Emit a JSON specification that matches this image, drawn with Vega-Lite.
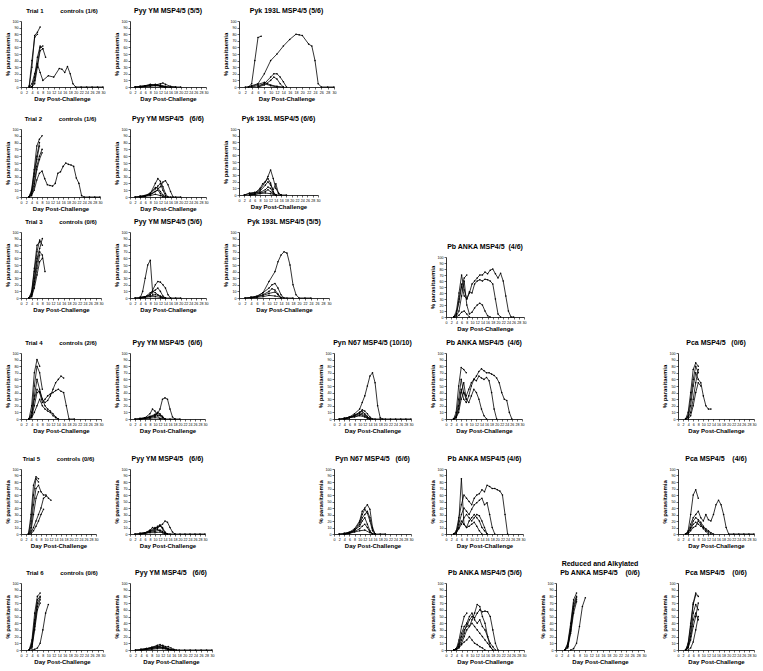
{
"$schema": "https://vega.github.io/schema/vega-lite/v6.json",
"background": "white",
"padding": {"left": 4, "top": 7, "right": 1, "bottom": 2},
"config": {
 "view": {"stroke": null},
 "font": "Liberation Sans",
 "title": {"fontSize": 7, "font": "Liberation Sans", "fontWeight": "bold", "offset": 5, "color": "black"},
 "axis": {"grid": false, "domainColor": "black", "tickColor": "black", "tickSize": 2, "tickWidth": 0.6, "domainWidth": 0.8, "labelFontSize": 3.6, "labelFont": "Liberation Sans", "labelColor": "black", "labelPadding": 1, "labelOverlap": false, "labelFlush": false, "titleFontSize": 6, "titleFont": "Liberation Sans", "titleFontWeight": "bold", "titleColor": "black", "titlePadding": 2},
 "axisX": {"tickCount": 15},
 "axisY": {"tickCount": 10},
 "line": {"color": "black", "strokeWidth": 0.8},
 "point": {"color": "black", "filled": true, "size": 2.5}
},
"datasets": {
 "t1c": [{"m":"a","d":3,"v":0},{"m":"a","d":4,"v":30},{"m":"a","d":5,"v":78},{"m":"a","d":6,"v":83},{"m":"a","d":7,"v":91},
  {"m":"b","d":3,"v":2},{"m":"b","d":4,"v":40},{"m":"b","d":5,"v":75},{"m":"b","d":6,"v":80},
  {"m":"c","d":3,"v":0},{"m":"c","d":4,"v":0},{"m":"c","d":5,"v":10},{"m":"c","d":6,"v":35},{"m":"c","d":7,"v":60},{"m":"c","d":8,"v":62},
  {"m":"d","d":4,"v":0},{"m":"d","d":5,"v":5},{"m":"d","d":6,"v":30},{"m":"d","d":7,"v":55},{"m":"d","d":8,"v":58},{"m":"d","d":9,"v":45},
  {"m":"e","d":3,"v":0},{"m":"e","d":4,"v":5},{"m":"e","d":5,"v":20},{"m":"e","d":6,"v":35},{"m":"e","d":7,"v":22},{"m":"e","d":8,"v":10},{"m":"e","d":10,"v":17},{"m":"e","d":12,"v":15},{"m":"e","d":14,"v":28},{"m":"e","d":15,"v":27},{"m":"e","d":16,"v":22},{"m":"e","d":17,"v":31},{"m":"e","d":18,"v":20},{"m":"e","d":19,"v":5},{"m":"e","d":20,"v":0},{"m":"e","d":22,"v":0},{"m":"e","d":24,"v":0},{"m":"e","d":26,"v":0},{"m":"e","d":28,"v":0},{"m":"e","d":30,"v":0},
  {"m":"f","d":3,"v":0},{"m":"f","d":4,"v":0},{"m":"f","d":5,"v":15},{"m":"f","d":6,"v":45},{"m":"f","d":7,"v":62},{"m":"f","d":8,"v":58}],
 "t1y": [{"m":"a","d":2,"v":0},{"m":"a","d":4,"v":1},{"m":"a","d":6,"v":2},{"m":"a","d":8,"v":3},{"m":"a","d":10,"v":3},{"m":"a","d":12,"v":5},{"m":"a","d":13,"v":6},{"m":"a","d":14,"v":4},{"m":"a","d":16,"v":1},{"m":"a","d":18,"v":0},{"m":"a","d":20,"v":0},
  {"m":"b","d":2,"v":0},{"m":"b","d":4,"v":1},{"m":"b","d":6,"v":2},{"m":"b","d":8,"v":4},{"m":"b","d":10,"v":3},{"m":"b","d":12,"v":2},{"m":"b","d":14,"v":0},
  {"m":"c","d":4,"v":0},{"m":"c","d":6,"v":1},{"m":"c","d":8,"v":2},{"m":"c","d":10,"v":4},{"m":"c","d":11,"v":3},{"m":"c","d":12,"v":1},{"m":"c","d":14,"v":0},
  {"m":"d","d":4,"v":0},{"m":"d","d":6,"v":1},{"m":"d","d":8,"v":3},{"m":"d","d":10,"v":2},{"m":"d","d":12,"v":3},{"m":"d","d":14,"v":1},{"m":"d","d":16,"v":0},
  {"m":"e","d":2,"v":0},{"m":"e","d":4,"v":0},{"m":"e","d":6,"v":1},{"m":"e","d":8,"v":1},{"m":"e","d":10,"v":2},{"m":"e","d":12,"v":1},{"m":"e","d":14,"v":0},{"m":"e","d":16,"v":0},{"m":"e","d":18,"v":0}],
 "t1k": [{"m":"a","d":3,"v":0},{"m":"a","d":4,"v":5},{"m":"a","d":5,"v":40},{"m":"a","d":6,"v":75},{"m":"a","d":7,"v":77},
  {"m":"b","d":3,"v":0},{"m":"b","d":4,"v":2},{"m":"b","d":6,"v":5},{"m":"b","d":8,"v":20},{"m":"b","d":10,"v":40},{"m":"b","d":12,"v":50},{"m":"b","d":14,"v":62},{"m":"b","d":16,"v":72},{"m":"b","d":18,"v":80},{"m":"b","d":19,"v":79},{"m":"b","d":20,"v":78},{"m":"b","d":22,"v":65},{"m":"b","d":23,"v":62},{"m":"b","d":24,"v":40},{"m":"b","d":25,"v":5},{"m":"b","d":26,"v":0},{"m":"b","d":28,"v":0},{"m":"b","d":30,"v":0},
  {"m":"c","d":6,"v":0},{"m":"c","d":8,"v":5},{"m":"c","d":10,"v":15},{"m":"c","d":11,"v":20},{"m":"c","d":12,"v":20},{"m":"c","d":13,"v":15},{"m":"c","d":14,"v":8},{"m":"c","d":15,"v":0},
  {"m":"d","d":6,"v":0},{"m":"d","d":8,"v":3},{"m":"d","d":10,"v":10},{"m":"d","d":11,"v":15},{"m":"d","d":12,"v":12},{"m":"d","d":13,"v":5},{"m":"d","d":14,"v":0},
  {"m":"e","d":2,"v":0},{"m":"e","d":4,"v":1},{"m":"e","d":6,"v":4},{"m":"e","d":8,"v":7},{"m":"e","d":9,"v":5},{"m":"e","d":10,"v":3},{"m":"e","d":12,"v":1},{"m":"e","d":14,"v":0},
  {"m":"f","d":4,"v":0},{"m":"f","d":6,"v":2},{"m":"f","d":8,"v":5},{"m":"f","d":10,"v":2},{"m":"f","d":12,"v":0}],
 "t2c": [{"m":"a","d":3,"v":0},{"m":"a","d":4,"v":10},{"m":"a","d":5,"v":40},{"m":"a","d":6,"v":75},{"m":"a","d":7,"v":85},{"m":"a","d":8,"v":90},
  {"m":"b","d":3,"v":0},{"m":"b","d":4,"v":8},{"m":"b","d":5,"v":35},{"m":"b","d":6,"v":60},{"m":"b","d":7,"v":80},
  {"m":"c","d":3,"v":0},{"m":"c","d":4,"v":5},{"m":"c","d":5,"v":30},{"m":"c","d":6,"v":55},{"m":"c","d":7,"v":75},
  {"m":"d","d":3,"v":0},{"m":"d","d":4,"v":5},{"m":"d","d":5,"v":20},{"m":"d","d":6,"v":45},{"m":"d","d":7,"v":60},{"m":"d","d":8,"v":70},
  {"m":"e","d":3,"v":0},{"m":"e","d":4,"v":2},{"m":"e","d":5,"v":10},{"m":"e","d":6,"v":25},{"m":"e","d":7,"v":35},{"m":"e","d":8,"v":38},{"m":"e","d":9,"v":27},{"m":"e","d":10,"v":18},{"m":"e","d":11,"v":17},{"m":"e","d":12,"v":16},{"m":"e","d":13,"v":20},{"m":"e","d":14,"v":35},{"m":"e","d":15,"v":37},{"m":"e","d":16,"v":45},{"m":"e","d":17,"v":50},{"m":"e","d":18,"v":48},{"m":"e","d":19,"v":47},{"m":"e","d":20,"v":45},{"m":"e","d":21,"v":28},{"m":"e","d":22,"v":20},{"m":"e","d":23,"v":2},{"m":"e","d":24,"v":0},{"m":"e","d":26,"v":0},{"m":"e","d":28,"v":0},{"m":"e","d":30,"v":0},
  {"m":"f","d":3,"v":0},{"m":"f","d":4,"v":3},{"m":"f","d":5,"v":15},{"m":"f","d":6,"v":40},{"m":"f","d":7,"v":55},{"m":"f","d":8,"v":65}],
 "t2y": [{"m":"a","d":2,"v":0},{"m":"a","d":4,"v":1},{"m":"a","d":6,"v":2},{"m":"a","d":8,"v":5},{"m":"a","d":10,"v":20},{"m":"a","d":11,"v":27},{"m":"a","d":12,"v":23},{"m":"a","d":13,"v":15},{"m":"a","d":14,"v":5},{"m":"a","d":15,"v":0},
  {"m":"b","d":4,"v":0},{"m":"b","d":6,"v":2},{"m":"b","d":8,"v":3},{"m":"b","d":10,"v":8},{"m":"b","d":12,"v":15},{"m":"b","d":13,"v":22},{"m":"b","d":14,"v":24},{"m":"b","d":15,"v":18},{"m":"b","d":16,"v":8},{"m":"b","d":17,"v":0},
  {"m":"c","d":4,"v":0},{"m":"c","d":6,"v":1},{"m":"c","d":8,"v":4},{"m":"c","d":10,"v":12},{"m":"c","d":11,"v":16},{"m":"c","d":12,"v":20},{"m":"c","d":13,"v":10},{"m":"c","d":14,"v":2},{"m":"c","d":15,"v":0},
  {"m":"d","d":4,"v":0},{"m":"d","d":6,"v":2},{"m":"d","d":8,"v":6},{"m":"d","d":10,"v":14},{"m":"d","d":11,"v":13},{"m":"d","d":12,"v":8},{"m":"d","d":13,"v":3},{"m":"d","d":14,"v":0},
  {"m":"e","d":4,"v":1},{"m":"e","d":6,"v":2},{"m":"e","d":8,"v":4},{"m":"e","d":10,"v":8},{"m":"e","d":11,"v":10},{"m":"e","d":12,"v":5},{"m":"e","d":13,"v":0},
  {"m":"f","d":2,"v":0},{"m":"f","d":4,"v":1},{"m":"f","d":6,"v":1},{"m":"f","d":8,"v":2},{"m":"f","d":10,"v":4},{"m":"f","d":12,"v":2},{"m":"f","d":14,"v":0},{"m":"f","d":16,"v":0},{"m":"f","d":18,"v":0},{"m":"f","d":20,"v":0}],
 "t2k": [{"m":"a","d":2,"v":0},{"m":"a","d":4,"v":2},{"m":"a","d":6,"v":3},{"m":"a","d":8,"v":8},{"m":"a","d":10,"v":20},{"m":"a","d":11,"v":28},{"m":"a","d":12,"v":38},{"m":"a","d":13,"v":25},{"m":"a","d":14,"v":10},{"m":"a","d":15,"v":3},{"m":"a","d":16,"v":0},
  {"m":"b","d":4,"v":2},{"m":"b","d":6,"v":3},{"m":"b","d":8,"v":10},{"m":"b","d":9,"v":17},{"m":"b","d":10,"v":20},{"m":"b","d":11,"v":25},{"m":"b","d":12,"v":18},{"m":"b","d":13,"v":5},{"m":"b","d":14,"v":0},
  {"m":"c","d":4,"v":0},{"m":"c","d":6,"v":2},{"m":"c","d":8,"v":6},{"m":"c","d":10,"v":15},{"m":"c","d":11,"v":20},{"m":"c","d":12,"v":15},{"m":"c","d":13,"v":8},{"m":"c","d":14,"v":17},{"m":"c","d":15,"v":2},{"m":"c","d":16,"v":0},
  {"m":"d","d":2,"v":0},{"m":"d","d":4,"v":3},{"m":"d","d":6,"v":4},{"m":"d","d":8,"v":4},{"m":"d","d":10,"v":8},{"m":"d","d":11,"v":12},{"m":"d","d":12,"v":10},{"m":"d","d":13,"v":4},{"m":"d","d":14,"v":0},
  {"m":"e","d":4,"v":0},{"m":"e","d":6,"v":1},{"m":"e","d":8,"v":3},{"m":"e","d":10,"v":5},{"m":"e","d":11,"v":8},{"m":"e","d":12,"v":5},{"m":"e","d":13,"v":2},{"m":"e","d":14,"v":0},
  {"m":"f","d":4,"v":0},{"m":"f","d":6,"v":1},{"m":"f","d":8,"v":2},{"m":"f","d":10,"v":3},{"m":"f","d":12,"v":2},{"m":"f","d":14,"v":0},{"m":"f","d":16,"v":0},{"m":"f","d":18,"v":0}],
 "t3c": [{"m":"a","d":3,"v":0},{"m":"a","d":4,"v":10},{"m":"a","d":5,"v":45},{"m":"a","d":6,"v":80},{"m":"a","d":7,"v":85},
  {"m":"b","d":3,"v":0},{"m":"b","d":4,"v":8},{"m":"b","d":5,"v":40},{"m":"b","d":6,"v":70},{"m":"b","d":7,"v":88},{"m":"b","d":8,"v":80},
  {"m":"c","d":3,"v":0},{"m":"c","d":4,"v":5},{"m":"c","d":5,"v":30},{"m":"c","d":6,"v":60},{"m":"c","d":7,"v":75},{"m":"c","d":8,"v":90},
  {"m":"d","d":3,"v":0},{"m":"d","d":4,"v":5},{"m":"d","d":5,"v":25},{"m":"d","d":6,"v":55},{"m":"d","d":7,"v":70},{"m":"d","d":8,"v":65},{"m":"d","d":9,"v":40},
  {"m":"e","d":3,"v":0},{"m":"e","d":4,"v":3},{"m":"e","d":5,"v":20},{"m":"e","d":6,"v":45},{"m":"e","d":7,"v":65},
  {"m":"f","d":3,"v":0},{"m":"f","d":4,"v":2},{"m":"f","d":5,"v":15},{"m":"f","d":6,"v":35},{"m":"f","d":7,"v":55},{"m":"f","d":8,"v":60}],
 "t3y": [{"m":"a","d":4,"v":0},{"m":"a","d":5,"v":10},{"m":"a","d":6,"v":30},{"m":"a","d":7,"v":50},{"m":"a","d":8,"v":57},{"m":"a","d":9,"v":5},
  {"m":"b","d":4,"v":0},{"m":"b","d":6,"v":2},{"m":"b","d":8,"v":5},{"m":"b","d":10,"v":20},{"m":"b","d":11,"v":25},{"m":"b","d":12,"v":24},{"m":"b","d":13,"v":20},{"m":"b","d":14,"v":15},{"m":"b","d":15,"v":5},{"m":"b","d":16,"v":0},
  {"m":"c","d":4,"v":0},{"m":"c","d":6,"v":2},{"m":"c","d":8,"v":8},{"m":"c","d":10,"v":12},{"m":"c","d":11,"v":15},{"m":"c","d":12,"v":10},{"m":"c","d":13,"v":3},{"m":"c","d":14,"v":0},
  {"m":"d","d":4,"v":1},{"m":"d","d":6,"v":2},{"m":"d","d":8,"v":5},{"m":"d","d":9,"v":10},{"m":"d","d":10,"v":8},{"m":"d","d":11,"v":5},{"m":"d","d":12,"v":2},{"m":"d","d":13,"v":0},
  {"m":"e","d":2,"v":0},{"m":"e","d":4,"v":1},{"m":"e","d":6,"v":2},{"m":"e","d":8,"v":3},{"m":"e","d":10,"v":5},{"m":"e","d":12,"v":3},{"m":"e","d":14,"v":0},
  {"m":"f","d":2,"v":0},{"m":"f","d":4,"v":0},{"m":"f","d":6,"v":1},{"m":"f","d":8,"v":2},{"m":"f","d":10,"v":2},{"m":"f","d":12,"v":1},{"m":"f","d":14,"v":0},{"m":"f","d":16,"v":0},{"m":"f","d":18,"v":0},{"m":"f","d":20,"v":0}],
 "t3k": [{"m":"a","d":2,"v":0},{"m":"a","d":4,"v":1},{"m":"a","d":6,"v":3},{"m":"a","d":8,"v":8},{"m":"a","d":10,"v":25},{"m":"a","d":12,"v":40},{"m":"a","d":13,"v":55},{"m":"a","d":14,"v":65},{"m":"a","d":15,"v":70},{"m":"a","d":16,"v":68},{"m":"a","d":17,"v":50},{"m":"a","d":18,"v":20},{"m":"a","d":19,"v":5},{"m":"a","d":20,"v":0},{"m":"a","d":22,"v":0},{"m":"a","d":24,"v":0},
  {"m":"b","d":4,"v":0},{"m":"b","d":6,"v":2},{"m":"b","d":8,"v":8},{"m":"b","d":10,"v":15},{"m":"b","d":11,"v":20},{"m":"b","d":12,"v":22},{"m":"b","d":13,"v":15},{"m":"b","d":14,"v":5},{"m":"b","d":15,"v":0},
  {"m":"c","d":4,"v":0},{"m":"c","d":6,"v":2},{"m":"c","d":8,"v":5},{"m":"c","d":10,"v":10},{"m":"c","d":11,"v":14},{"m":"c","d":12,"v":12},{"m":"c","d":13,"v":6},{"m":"c","d":14,"v":0},
  {"m":"d","d":4,"v":1},{"m":"d","d":6,"v":2},{"m":"d","d":8,"v":4},{"m":"d","d":10,"v":7},{"m":"d","d":12,"v":9},{"m":"d","d":13,"v":5},{"m":"d","d":14,"v":0},
  {"m":"e","d":2,"v":0},{"m":"e","d":4,"v":1},{"m":"e","d":6,"v":1},{"m":"e","d":8,"v":2},{"m":"e","d":10,"v":4},{"m":"e","d":12,"v":3},{"m":"e","d":14,"v":1},{"m":"e","d":16,"v":0},{"m":"e","d":18,"v":0}],
 "t3b": [{"m":"a","d":3,"v":0},{"m":"a","d":4,"v":10},{"m":"a","d":5,"v":40},{"m":"a","d":6,"v":70},{"m":"a","d":7,"v":45},{"m":"a","d":8,"v":30},{"m":"a","d":9,"v":40},{"m":"a","d":10,"v":55},{"m":"a","d":11,"v":60},{"m":"a","d":12,"v":65},{"m":"a","d":13,"v":70},{"m":"a","d":14,"v":70},{"m":"a","d":15,"v":75},{"m":"a","d":16,"v":72},{"m":"a","d":17,"v":78},{"m":"a","d":18,"v":80},{"m":"a","d":19,"v":72},{"m":"a","d":20,"v":65},{"m":"a","d":21,"v":73},{"m":"a","d":22,"v":60},{"m":"a","d":23,"v":35},{"m":"a","d":24,"v":10},{"m":"a","d":25,"v":0},{"m":"a","d":26,"v":0},
  {"m":"b","d":3,"v":0},{"m":"b","d":4,"v":5},{"m":"b","d":5,"v":30},{"m":"b","d":6,"v":55},{"m":"b","d":7,"v":35},{"m":"b","d":8,"v":30},{"m":"b","d":9,"v":42},{"m":"b","d":10,"v":40},{"m":"b","d":11,"v":55},{"m":"b","d":12,"v":60},{"m":"b","d":13,"v":62},{"m":"b","d":14,"v":60},{"m":"b","d":15,"v":63},{"m":"b","d":16,"v":62},{"m":"b","d":17,"v":60},{"m":"b","d":18,"v":55},{"m":"b","d":19,"v":30},{"m":"b","d":20,"v":5},{"m":"b","d":21,"v":0},
  {"m":"c","d":3,"v":0},{"m":"c","d":4,"v":2},{"m":"c","d":5,"v":10},{"m":"c","d":6,"v":35},{"m":"c","d":7,"v":60},{"m":"c","d":8,"v":20},{"m":"c","d":9,"v":5},{"m":"c","d":10,"v":8},{"m":"c","d":11,"v":15},{"m":"c","d":12,"v":20},{"m":"c","d":13,"v":23},{"m":"c","d":14,"v":20},{"m":"c","d":15,"v":10},{"m":"c","d":16,"v":2},{"m":"c","d":17,"v":0},
  {"m":"d","d":3,"v":0},{"m":"d","d":4,"v":5},{"m":"d","d":5,"v":25},{"m":"d","d":6,"v":50},{"m":"d","d":7,"v":65},{"m":"d","d":8,"v":70},
  {"m":"e","d":3,"v":0},{"m":"e","d":4,"v":0},{"m":"e","d":5,"v":3},{"m":"e","d":6,"v":8},{"m":"e","d":7,"v":10},{"m":"e","d":8,"v":5},{"m":"e","d":9,"v":0}],
 "t4c": [{"m":"a","d":3,"v":0},{"m":"a","d":4,"v":20},{"m":"a","d":5,"v":70},{"m":"a","d":6,"v":90},{"m":"a","d":7,"v":80},
  {"m":"b","d":3,"v":0},{"m":"b","d":4,"v":10},{"m":"b","d":5,"v":50},{"m":"b","d":6,"v":80},{"m":"b","d":7,"v":70},{"m":"b","d":8,"v":45},
  {"m":"c","d":3,"v":0},{"m":"c","d":4,"v":5},{"m":"c","d":5,"v":35},{"m":"c","d":6,"v":60},{"m":"c","d":7,"v":45},{"m":"c","d":8,"v":30},{"m":"c","d":9,"v":20},{"m":"c","d":10,"v":15},{"m":"c","d":11,"v":12},{"m":"c","d":12,"v":8},{"m":"c","d":13,"v":3},{"m":"c","d":14,"v":0},
  {"m":"d","d":3,"v":0},{"m":"d","d":4,"v":5},{"m":"d","d":5,"v":30},{"m":"d","d":6,"v":45},{"m":"d","d":7,"v":40},{"m":"d","d":8,"v":25},{"m":"d","d":9,"v":30},{"m":"d","d":10,"v":35},{"m":"d","d":11,"v":38},{"m":"d","d":12,"v":40},{"m":"d","d":13,"v":43},{"m":"d","d":14,"v":45},{"m":"d","d":15,"v":42},{"m":"d","d":16,"v":40},{"m":"d","d":17,"v":20},{"m":"d","d":18,"v":0},{"m":"d","d":20,"v":0},
  {"m":"e","d":3,"v":0},{"m":"e","d":4,"v":3},{"m":"e","d":5,"v":20},{"m":"e","d":6,"v":40},{"m":"e","d":7,"v":42},{"m":"e","d":8,"v":30},{"m":"e","d":9,"v":25},{"m":"e","d":10,"v":28},{"m":"e","d":11,"v":35},{"m":"e","d":12,"v":45},{"m":"e","d":13,"v":55},{"m":"e","d":14,"v":60},{"m":"e","d":15,"v":65},{"m":"e","d":16,"v":62},
  {"m":"f","d":3,"v":0},{"m":"f","d":4,"v":2},{"m":"f","d":5,"v":10},{"m":"f","d":6,"v":20},{"m":"f","d":7,"v":30},{"m":"f","d":8,"v":20},{"m":"f","d":9,"v":15},{"m":"f","d":10,"v":12},{"m":"f","d":11,"v":10},{"m":"f","d":12,"v":5},{"m":"f","d":13,"v":2},{"m":"f","d":14,"v":0}],
 "t4y": [{"m":"a","d":2,"v":0},{"m":"a","d":4,"v":1},{"m":"a","d":6,"v":2},{"m":"a","d":8,"v":8},{"m":"a","d":9,"v":15},{"m":"a","d":10,"v":12},{"m":"a","d":11,"v":5},{"m":"a","d":12,"v":0},
  {"m":"b","d":4,"v":0},{"m":"b","d":6,"v":2},{"m":"b","d":8,"v":4},{"m":"b","d":10,"v":7},{"m":"b","d":11,"v":10},{"m":"b","d":12,"v":8},{"m":"b","d":13,"v":3},{"m":"b","d":14,"v":0},
  {"m":"c","d":4,"v":0},{"m":"c","d":6,"v":1},{"m":"c","d":8,"v":3},{"m":"c","d":10,"v":5},{"m":"c","d":11,"v":8},{"m":"c","d":12,"v":15},{"m":"c","d":13,"v":30},{"m":"c","d":14,"v":32},{"m":"c","d":15,"v":30},{"m":"c","d":16,"v":15},{"m":"c","d":17,"v":3},{"m":"c","d":18,"v":0},
  {"m":"d","d":4,"v":0},{"m":"d","d":6,"v":1},{"m":"d","d":8,"v":3},{"m":"d","d":10,"v":6},{"m":"d","d":11,"v":9},{"m":"d","d":12,"v":5},{"m":"d","d":13,"v":2},{"m":"d","d":14,"v":0},
  {"m":"e","d":4,"v":0},{"m":"e","d":6,"v":1},{"m":"e","d":8,"v":2},{"m":"e","d":10,"v":4},{"m":"e","d":12,"v":6},{"m":"e","d":13,"v":4},{"m":"e","d":14,"v":0},
  {"m":"f","d":2,"v":0},{"m":"f","d":4,"v":0},{"m":"f","d":6,"v":1},{"m":"f","d":8,"v":1},{"m":"f","d":10,"v":2},{"m":"f","d":12,"v":1},{"m":"f","d":14,"v":0},{"m":"f","d":16,"v":0},{"m":"f","d":18,"v":0},{"m":"f","d":20,"v":0}],
 "t4n": [{"m":"a","d":2,"v":0},{"m":"a","d":4,"v":1},{"m":"a","d":6,"v":3},{"m":"a","d":8,"v":8},{"m":"a","d":10,"v":15},{"m":"a","d":11,"v":25},{"m":"a","d":12,"v":35},{"m":"a","d":13,"v":50},{"m":"a","d":14,"v":65},{"m":"a","d":15,"v":70},{"m":"a","d":16,"v":55},{"m":"a","d":17,"v":20},{"m":"a","d":18,"v":2},{"m":"a","d":19,"v":0},
  {"m":"b","d":4,"v":0},{"m":"b","d":6,"v":2},{"m":"b","d":8,"v":5},{"m":"b","d":10,"v":10},{"m":"b","d":11,"v":14},{"m":"b","d":12,"v":12},{"m":"b","d":13,"v":8},{"m":"b","d":14,"v":3},{"m":"b","d":15,"v":0},
  {"m":"c","d":4,"v":0},{"m":"c","d":6,"v":2},{"m":"c","d":8,"v":6},{"m":"c","d":10,"v":10},{"m":"c","d":11,"v":12},{"m":"c","d":12,"v":8},{"m":"c","d":13,"v":4},{"m":"c","d":14,"v":0},
  {"m":"d","d":4,"v":1},{"m":"d","d":6,"v":3},{"m":"d","d":8,"v":5},{"m":"d","d":10,"v":8},{"m":"d","d":11,"v":6},{"m":"d","d":12,"v":4},{"m":"d","d":13,"v":1},{"m":"d","d":14,"v":0},
  {"m":"e","d":4,"v":0},{"m":"e","d":6,"v":2},{"m":"e","d":8,"v":4},{"m":"e","d":10,"v":6},{"m":"e","d":11,"v":9},{"m":"e","d":12,"v":6},{"m":"e","d":13,"v":3},{"m":"e","d":14,"v":0},
  {"m":"f","d":2,"v":0},{"m":"f","d":4,"v":1},{"m":"f","d":6,"v":2},{"m":"f","d":8,"v":3},{"m":"f","d":10,"v":5},{"m":"f","d":12,"v":3},{"m":"f","d":14,"v":1},{"m":"f","d":16,"v":0},{"m":"f","d":18,"v":0},{"m":"f","d":20,"v":0},{"m":"f","d":22,"v":0},{"m":"f","d":24,"v":0},{"m":"f","d":26,"v":0},{"m":"f","d":28,"v":0},{"m":"f","d":30,"v":0}],
 "t4b": [{"m":"a","d":3,"v":0},{"m":"a","d":4,"v":10},{"m":"a","d":5,"v":50},{"m":"a","d":6,"v":78},{"m":"a","d":7,"v":75},{"m":"a","d":8,"v":70},
  {"m":"b","d":3,"v":0},{"m":"b","d":4,"v":5},{"m":"b","d":5,"v":30},{"m":"b","d":6,"v":60},{"m":"b","d":7,"v":40},{"m":"b","d":8,"v":35},{"m":"b","d":9,"v":45},{"m":"b","d":10,"v":55},{"m":"b","d":11,"v":60},{"m":"b","d":12,"v":65},{"m":"b","d":13,"v":72},{"m":"b","d":14,"v":76},{"m":"b","d":15,"v":73},{"m":"b","d":16,"v":70},{"m":"b","d":17,"v":70},{"m":"b","d":18,"v":68},{"m":"b","d":19,"v":66},{"m":"b","d":20,"v":62},{"m":"b","d":21,"v":55},{"m":"b","d":22,"v":40},{"m":"b","d":23,"v":30},{"m":"b","d":24,"v":28},{"m":"b","d":25,"v":10},{"m":"b","d":26,"v":0},
  {"m":"c","d":3,"v":0},{"m":"c","d":4,"v":3},{"m":"c","d":5,"v":20},{"m":"c","d":6,"v":45},{"m":"c","d":7,"v":30},{"m":"c","d":8,"v":25},{"m":"c","d":9,"v":35},{"m":"c","d":10,"v":50},{"m":"c","d":11,"v":60},{"m":"c","d":12,"v":58},{"m":"c","d":13,"v":65},{"m":"c","d":14,"v":62},{"m":"c","d":15,"v":60},{"m":"c","d":16,"v":63},{"m":"c","d":17,"v":58},{"m":"c","d":18,"v":40},{"m":"c","d":19,"v":15},{"m":"c","d":20,"v":0},
  {"m":"d","d":3,"v":0},{"m":"d","d":4,"v":2},{"m":"d","d":5,"v":10},{"m":"d","d":6,"v":30},{"m":"d","d":7,"v":40},{"m":"d","d":8,"v":30},{"m":"d","d":9,"v":25},{"m":"d","d":10,"v":35},{"m":"d","d":11,"v":45},{"m":"d","d":12,"v":40},{"m":"d","d":13,"v":30},{"m":"d","d":14,"v":15},{"m":"d","d":15,"v":5},{"m":"d","d":16,"v":0},
  {"m":"e","d":3,"v":0},{"m":"e","d":4,"v":2},{"m":"e","d":5,"v":15},{"m":"e","d":6,"v":40},{"m":"e","d":7,"v":55},{"m":"e","d":8,"v":30}],
 "t4p": [{"m":"a","d":3,"v":0},{"m":"a","d":4,"v":10},{"m":"a","d":5,"v":40},{"m":"a","d":6,"v":75},{"m":"a","d":7,"v":85},{"m":"a","d":8,"v":80},
  {"m":"b","d":3,"v":0},{"m":"b","d":4,"v":5},{"m":"b","d":5,"v":30},{"m":"b","d":6,"v":60},{"m":"b","d":7,"v":80},{"m":"b","d":8,"v":70},
  {"m":"c","d":3,"v":0},{"m":"c","d":4,"v":3},{"m":"c","d":5,"v":20},{"m":"c","d":6,"v":50},{"m":"c","d":7,"v":70},{"m":"c","d":8,"v":60},{"m":"c","d":9,"v":55},{"m":"c","d":10,"v":35},{"m":"c","d":11,"v":20},{"m":"c","d":12,"v":15},{"m":"c","d":13,"v":15},
  {"m":"d","d":4,"v":0},{"m":"d","d":5,"v":5},{"m":"d","d":6,"v":20},{"m":"d","d":7,"v":40},{"m":"d","d":8,"v":55},{"m":"d","d":9,"v":50},
  {"m":"e","d":3,"v":0},{"m":"e","d":4,"v":2},{"m":"e","d":5,"v":10},{"m":"e","d":6,"v":30},{"m":"e","d":7,"v":55},{"m":"e","d":8,"v":75}],
 "t5c": [{"m":"a","d":3,"v":0},{"m":"a","d":4,"v":30},{"m":"a","d":5,"v":75},{"m":"a","d":6,"v":88},{"m":"a","d":7,"v":85},
  {"m":"b","d":3,"v":0},{"m":"b","d":4,"v":20},{"m":"b","d":5,"v":60},{"m":"b","d":6,"v":85},{"m":"b","d":7,"v":80},
  {"m":"c","d":3,"v":0},{"m":"c","d":4,"v":10},{"m":"c","d":5,"v":45},{"m":"c","d":6,"v":70},{"m":"c","d":7,"v":75},{"m":"c","d":8,"v":65},{"m":"c","d":9,"v":60},{"m":"c","d":10,"v":60},{"m":"c","d":11,"v":55},{"m":"c","d":12,"v":52},
  {"m":"d","d":3,"v":0},{"m":"d","d":4,"v":5},{"m":"d","d":5,"v":30},{"m":"d","d":6,"v":55},{"m":"d","d":7,"v":65},
  {"m":"e","d":3,"v":0},{"m":"e","d":4,"v":2},{"m":"e","d":5,"v":10},{"m":"e","d":6,"v":20},{"m":"e","d":7,"v":30},{"m":"e","d":8,"v":40},{"m":"e","d":9,"v":55},{"m":"e","d":10,"v":58},
  {"m":"f","d":4,"v":0},{"m":"f","d":5,"v":5},{"m":"f","d":6,"v":12},{"m":"f","d":7,"v":20},{"m":"f","d":8,"v":30},{"m":"f","d":9,"v":38}],
 "t5y": [{"m":"a","d":2,"v":0},{"m":"a","d":4,"v":1},{"m":"a","d":6,"v":2},{"m":"a","d":8,"v":5},{"m":"a","d":10,"v":10},{"m":"a","d":11,"v":9},{"m":"a","d":12,"v":12},{"m":"a","d":13,"v":15},{"m":"a","d":14,"v":20},{"m":"a","d":15,"v":18},{"m":"a","d":16,"v":10},{"m":"a","d":17,"v":3},{"m":"a","d":18,"v":0},
  {"m":"b","d":4,"v":0},{"m":"b","d":6,"v":2},{"m":"b","d":8,"v":6},{"m":"b","d":9,"v":10},{"m":"b","d":10,"v":8},{"m":"b","d":11,"v":12},{"m":"b","d":12,"v":13},{"m":"b","d":13,"v":8},{"m":"b","d":14,"v":2},{"m":"b","d":15,"v":0},
  {"m":"c","d":4,"v":0},{"m":"c","d":6,"v":1},{"m":"c","d":8,"v":4},{"m":"c","d":10,"v":8},{"m":"c","d":11,"v":10},{"m":"c","d":12,"v":14},{"m":"c","d":13,"v":10},{"m":"c","d":14,"v":3},{"m":"c","d":15,"v":0},
  {"m":"d","d":4,"v":1},{"m":"d","d":6,"v":2},{"m":"d","d":8,"v":4},{"m":"d","d":10,"v":6},{"m":"d","d":11,"v":7},{"m":"d","d":12,"v":5},{"m":"d","d":13,"v":2},{"m":"d","d":14,"v":0},
  {"m":"e","d":4,"v":0},{"m":"e","d":6,"v":1},{"m":"e","d":8,"v":3},{"m":"e","d":10,"v":4},{"m":"e","d":12,"v":6},{"m":"e","d":13,"v":4},{"m":"e","d":14,"v":1},{"m":"e","d":15,"v":0},
  {"m":"f","d":2,"v":0},{"m":"f","d":4,"v":0},{"m":"f","d":6,"v":1},{"m":"f","d":8,"v":2},{"m":"f","d":10,"v":2},{"m":"f","d":12,"v":3},{"m":"f","d":14,"v":1},{"m":"f","d":16,"v":0},{"m":"f","d":18,"v":0},{"m":"f","d":20,"v":0},{"m":"f","d":22,"v":0},{"m":"f","d":24,"v":0},{"m":"f","d":26,"v":0},{"m":"f","d":28,"v":0},{"m":"f","d":30,"v":0}],
 "t5n": [{"m":"a","d":2,"v":0},{"m":"a","d":4,"v":1},{"m":"a","d":6,"v":3},{"m":"a","d":8,"v":8},{"m":"a","d":10,"v":20},{"m":"a","d":11,"v":35},{"m":"a","d":12,"v":40},{"m":"a","d":13,"v":45},{"m":"a","d":14,"v":38},{"m":"a","d":15,"v":10},{"m":"a","d":16,"v":0},
  {"m":"b","d":4,"v":0},{"m":"b","d":6,"v":2},{"m":"b","d":8,"v":6},{"m":"b","d":10,"v":18},{"m":"b","d":11,"v":30},{"m":"b","d":12,"v":38},{"m":"b","d":13,"v":32},{"m":"b","d":14,"v":20},{"m":"b","d":15,"v":5},{"m":"b","d":16,"v":0},
  {"m":"c","d":4,"v":0},{"m":"c","d":6,"v":2},{"m":"c","d":8,"v":5},{"m":"c","d":10,"v":15},{"m":"c","d":11,"v":25},{"m":"c","d":12,"v":30},{"m":"c","d":13,"v":35},{"m":"c","d":14,"v":25},{"m":"c","d":15,"v":8},{"m":"c","d":16,"v":0},
  {"m":"d","d":4,"v":1},{"m":"d","d":6,"v":2},{"m":"d","d":8,"v":6},{"m":"d","d":10,"v":12},{"m":"d","d":11,"v":20},{"m":"d","d":12,"v":25},{"m":"d","d":13,"v":15},{"m":"d","d":14,"v":5},{"m":"d","d":15,"v":0},
  {"m":"e","d":4,"v":0},{"m":"e","d":6,"v":1},{"m":"e","d":8,"v":4},{"m":"e","d":10,"v":8},{"m":"e","d":11,"v":12},{"m":"e","d":12,"v":15},{"m":"e","d":13,"v":10},{"m":"e","d":14,"v":3},{"m":"e","d":15,"v":0},
  {"m":"f","d":2,"v":0},{"m":"f","d":4,"v":0},{"m":"f","d":6,"v":1},{"m":"f","d":8,"v":3},{"m":"f","d":10,"v":5},{"m":"f","d":12,"v":6},{"m":"f","d":14,"v":2},{"m":"f","d":16,"v":0},{"m":"f","d":18,"v":0},{"m":"f","d":20,"v":0}],
 "t5b": [{"m":"a","d":4,"v":0},{"m":"a","d":5,"v":20},{"m":"a","d":6,"v":85},{"m":"a","d":7,"v":15},{"m":"a","d":8,"v":10},{"m":"a","d":9,"v":20},{"m":"a","d":10,"v":25},{"m":"a","d":11,"v":30},{"m":"a","d":12,"v":25},{"m":"a","d":13,"v":20},{"m":"a","d":14,"v":10},{"m":"a","d":15,"v":5},{"m":"a","d":16,"v":0},
  {"m":"b","d":3,"v":0},{"m":"b","d":4,"v":5},{"m":"b","d":5,"v":25},{"m":"b","d":6,"v":45},{"m":"b","d":7,"v":60},{"m":"b","d":8,"v":55},{"m":"b","d":9,"v":50},{"m":"b","d":10,"v":45},{"m":"b","d":11,"v":55},{"m":"b","d":12,"v":60},{"m":"b","d":13,"v":62},{"m":"b","d":14,"v":68},{"m":"b","d":15,"v":65},{"m":"b","d":16,"v":75},{"m":"b","d":17,"v":73},{"m":"b","d":18,"v":70},{"m":"b","d":19,"v":70},{"m":"b","d":20,"v":68},{"m":"b","d":21,"v":66},{"m":"b","d":22,"v":60},{"m":"b","d":23,"v":30},{"m":"b","d":24,"v":0},
  {"m":"c","d":3,"v":0},{"m":"c","d":4,"v":3},{"m":"c","d":5,"v":15},{"m":"c","d":6,"v":30},{"m":"c","d":7,"v":40},{"m":"c","d":8,"v":35},{"m":"c","d":9,"v":30},{"m":"c","d":10,"v":38},{"m":"c","d":11,"v":45},{"m":"c","d":12,"v":48},{"m":"c","d":13,"v":52},{"m":"c","d":14,"v":55},{"m":"c","d":15,"v":45},{"m":"c","d":16,"v":48},{"m":"c","d":17,"v":30},{"m":"c","d":18,"v":10},{"m":"c","d":19,"v":0},
  {"m":"d","d":3,"v":0},{"m":"d","d":4,"v":2},{"m":"d","d":5,"v":8},{"m":"d","d":6,"v":15},{"m":"d","d":7,"v":25},{"m":"d","d":8,"v":30},{"m":"d","d":9,"v":25},{"m":"d","d":10,"v":20},{"m":"d","d":11,"v":25},{"m":"d","d":12,"v":30},{"m":"d","d":13,"v":28},{"m":"d","d":14,"v":20},{"m":"d","d":15,"v":10},{"m":"d","d":16,"v":0},
  {"m":"e","d":3,"v":0},{"m":"e","d":4,"v":2},{"m":"e","d":5,"v":10},{"m":"e","d":6,"v":20},{"m":"e","d":7,"v":15},{"m":"e","d":8,"v":10},{"m":"e","d":9,"v":12},{"m":"e","d":10,"v":15},{"m":"e","d":11,"v":18},{"m":"e","d":12,"v":12},{"m":"e","d":13,"v":5},{"m":"e","d":14,"v":0}],
 "t5p": [{"m":"a","d":3,"v":0},{"m":"a","d":4,"v":5},{"m":"a","d":5,"v":30},{"m":"a","d":6,"v":60},{"m":"a","d":7,"v":68},{"m":"a","d":8,"v":55},
  {"m":"b","d":3,"v":0},{"m":"b","d":4,"v":3},{"m":"b","d":5,"v":15},{"m":"b","d":6,"v":25},{"m":"b","d":7,"v":30},{"m":"b","d":8,"v":35},{"m":"b","d":9,"v":25},{"m":"b","d":10,"v":20},{"m":"b","d":11,"v":30},{"m":"b","d":12,"v":22},{"m":"b","d":13,"v":20},{"m":"b","d":14,"v":30},{"m":"b","d":15,"v":45},{"m":"b","d":16,"v":52},{"m":"b","d":17,"v":45},{"m":"b","d":18,"v":30},{"m":"b","d":19,"v":10},{"m":"b","d":20,"v":0},{"m":"b","d":22,"v":0},{"m":"b","d":24,"v":0},{"m":"b","d":26,"v":0},{"m":"b","d":28,"v":0},{"m":"b","d":30,"v":0},
  {"m":"c","d":3,"v":0},{"m":"c","d":4,"v":2},{"m":"c","d":5,"v":10},{"m":"c","d":6,"v":20},{"m":"c","d":7,"v":25},{"m":"c","d":8,"v":22},{"m":"c","d":9,"v":18},{"m":"c","d":10,"v":12},{"m":"c","d":11,"v":8},{"m":"c","d":12,"v":5},{"m":"c","d":13,"v":2},{"m":"c","d":14,"v":0},
  {"m":"d","d":3,"v":0},{"m":"d","d":4,"v":2},{"m":"d","d":5,"v":8},{"m":"d","d":6,"v":15},{"m":"d","d":7,"v":18},{"m":"d","d":8,"v":15},{"m":"d","d":9,"v":12},{"m":"d","d":10,"v":10},{"m":"d","d":11,"v":6},{"m":"d","d":12,"v":3},{"m":"d","d":13,"v":0},
  {"m":"e","d":4,"v":0},{"m":"e","d":5,"v":5},{"m":"e","d":6,"v":10},{"m":"e","d":7,"v":12},{"m":"e","d":8,"v":20},{"m":"e","d":9,"v":15},{"m":"e","d":10,"v":8},{"m":"e","d":11,"v":4},{"m":"e","d":12,"v":0}],
 "t6c": [{"m":"a","d":3,"v":0},{"m":"a","d":4,"v":15},{"m":"a","d":5,"v":55},{"m":"a","d":6,"v":80},{"m":"a","d":7,"v":85},
  {"m":"b","d":3,"v":0},{"m":"b","d":4,"v":10},{"m":"b","d":5,"v":45},{"m":"b","d":6,"v":75},{"m":"b","d":7,"v":80},
  {"m":"c","d":3,"v":0},{"m":"c","d":4,"v":8},{"m":"c","d":5,"v":40},{"m":"c","d":6,"v":70},{"m":"c","d":7,"v":78},
  {"m":"d","d":3,"v":0},{"m":"d","d":4,"v":5},{"m":"d","d":5,"v":35},{"m":"d","d":6,"v":65},{"m":"d","d":7,"v":75},
  {"m":"e","d":3,"v":0},{"m":"e","d":4,"v":3},{"m":"e","d":5,"v":30},{"m":"e","d":6,"v":60},{"m":"e","d":7,"v":70},
  {"m":"f","d":4,"v":0},{"m":"f","d":5,"v":1},{"m":"f","d":6,"v":3},{"m":"f","d":7,"v":10},{"m":"f","d":8,"v":30},{"m":"f","d":9,"v":55},{"m":"f","d":10,"v":68}],
 "t6y": [{"m":"a","d":2,"v":0},{"m":"a","d":4,"v":1},{"m":"a","d":6,"v":2},{"m":"a","d":8,"v":4},{"m":"a","d":10,"v":7},{"m":"a","d":11,"v":8},{"m":"a","d":12,"v":6},{"m":"a","d":13,"v":3},{"m":"a","d":14,"v":1},{"m":"a","d":16,"v":0},
  {"m":"b","d":4,"v":0},{"m":"b","d":6,"v":2},{"m":"b","d":8,"v":3},{"m":"b","d":10,"v":5},{"m":"b","d":11,"v":6},{"m":"b","d":12,"v":7},{"m":"b","d":13,"v":5},{"m":"b","d":14,"v":2},{"m":"b","d":15,"v":0},
  {"m":"c","d":4,"v":1},{"m":"c","d":6,"v":2},{"m":"c","d":8,"v":4},{"m":"c","d":10,"v":6},{"m":"c","d":12,"v":4},{"m":"c","d":14,"v":5},{"m":"c","d":15,"v":3},{"m":"c","d":16,"v":1},{"m":"c","d":17,"v":0},
  {"m":"d","d":4,"v":0},{"m":"d","d":6,"v":1},{"m":"d","d":8,"v":3},{"m":"d","d":10,"v":4},{"m":"d","d":12,"v":3},{"m":"d","d":14,"v":2},{"m":"d","d":16,"v":0},
  {"m":"e","d":4,"v":0},{"m":"e","d":6,"v":1},{"m":"e","d":8,"v":2},{"m":"e","d":10,"v":3},{"m":"e","d":12,"v":4},{"m":"e","d":13,"v":2},{"m":"e","d":14,"v":0},
  {"m":"f","d":2,"v":0},{"m":"f","d":4,"v":0},{"m":"f","d":6,"v":1},{"m":"f","d":8,"v":1},{"m":"f","d":10,"v":2},{"m":"f","d":12,"v":2},{"m":"f","d":14,"v":1},{"m":"f","d":16,"v":0},{"m":"f","d":18,"v":0},{"m":"f","d":20,"v":0},{"m":"f","d":22,"v":0},{"m":"f","d":24,"v":0},{"m":"f","d":26,"v":0},{"m":"f","d":28,"v":0},{"m":"f","d":30,"v":0}],
 "t6b": [{"m":"a","d":3,"v":0},{"m":"a","d":4,"v":2},{"m":"a","d":5,"v":10},{"m":"a","d":6,"v":25},{"m":"a","d":7,"v":35},{"m":"a","d":8,"v":40},{"m":"a","d":9,"v":35},{"m":"a","d":10,"v":45},{"m":"a","d":11,"v":55},{"m":"a","d":12,"v":68},{"m":"a","d":13,"v":65},{"m":"a","d":14,"v":50},{"m":"a","d":15,"v":40},{"m":"a","d":16,"v":20},{"m":"a","d":17,"v":5},{"m":"a","d":18,"v":0},
  {"m":"b","d":3,"v":0},{"m":"b","d":4,"v":2},{"m":"b","d":5,"v":8},{"m":"b","d":6,"v":20},{"m":"b","d":7,"v":30},{"m":"b","d":8,"v":35},{"m":"b","d":9,"v":45},{"m":"b","d":10,"v":50},{"m":"b","d":11,"v":48},{"m":"b","d":12,"v":55},{"m":"b","d":13,"v":60},{"m":"b","d":14,"v":57},{"m":"b","d":15,"v":58},{"m":"b","d":16,"v":57},{"m":"b","d":17,"v":50},{"m":"b","d":18,"v":30},{"m":"b","d":19,"v":10},{"m":"b","d":20,"v":0},
  {"m":"c","d":3,"v":0},{"m":"c","d":4,"v":1},{"m":"c","d":5,"v":5},{"m":"c","d":6,"v":15},{"m":"c","d":7,"v":25},{"m":"c","d":8,"v":40},{"m":"c","d":9,"v":50},{"m":"c","d":10,"v":55},{"m":"c","d":11,"v":45},{"m":"c","d":12,"v":40},{"m":"c","d":13,"v":45},{"m":"c","d":14,"v":35},{"m":"c","d":15,"v":30},{"m":"c","d":16,"v":20},{"m":"c","d":17,"v":10},{"m":"c","d":18,"v":5},{"m":"c","d":19,"v":0},
  {"m":"d","d":3,"v":0},{"m":"d","d":4,"v":1},{"m":"d","d":5,"v":5},{"m":"d","d":6,"v":10},{"m":"d","d":7,"v":20},{"m":"d","d":8,"v":30},{"m":"d","d":9,"v":35},{"m":"d","d":10,"v":40},{"m":"d","d":11,"v":35},{"m":"d","d":12,"v":30},{"m":"d","d":13,"v":25},{"m":"d","d":14,"v":20},{"m":"d","d":15,"v":15},{"m":"d","d":16,"v":10},{"m":"d","d":17,"v":5},{"m":"d","d":18,"v":0},
  {"m":"e","d":3,"v":0},{"m":"e","d":4,"v":1},{"m":"e","d":5,"v":3},{"m":"e","d":6,"v":8},{"m":"e","d":7,"v":12},{"m":"e","d":8,"v":15},{"m":"e","d":9,"v":20},{"m":"e","d":10,"v":15},{"m":"e","d":11,"v":10},{"m":"e","d":12,"v":8},{"m":"e","d":13,"v":5},{"m":"e","d":14,"v":3},{"m":"e","d":15,"v":0},
  {"m":"f","d":3,"v":0},{"m":"f","d":4,"v":2},{"m":"f","d":5,"v":15},{"m":"f","d":6,"v":35},{"m":"f","d":7,"v":50},{"m":"f","d":8,"v":55}],
 "t6r": [{"m":"a","d":3,"v":0},{"m":"a","d":4,"v":10},{"m":"a","d":5,"v":40},{"m":"a","d":6,"v":75},{"m":"a","d":7,"v":85},
  {"m":"b","d":3,"v":0},{"m":"b","d":4,"v":8},{"m":"b","d":5,"v":35},{"m":"b","d":6,"v":70},{"m":"b","d":7,"v":80},
  {"m":"c","d":3,"v":0},{"m":"c","d":4,"v":5},{"m":"c","d":5,"v":30},{"m":"c","d":6,"v":65},{"m":"c","d":7,"v":78},
  {"m":"d","d":3,"v":0},{"m":"d","d":4,"v":5},{"m":"d","d":5,"v":28},{"m":"d","d":6,"v":62},{"m":"d","d":7,"v":75},
  {"m":"e","d":3,"v":0},{"m":"e","d":4,"v":3},{"m":"e","d":5,"v":25},{"m":"e","d":6,"v":55},{"m":"e","d":7,"v":72},
  {"m":"f","d":5,"v":0},{"m":"f","d":6,"v":2},{"m":"f","d":7,"v":10},{"m":"f","d":8,"v":35},{"m":"f","d":9,"v":65},{"m":"f","d":10,"v":78}],
 "t6p": [{"m":"a","d":3,"v":0},{"m":"a","d":4,"v":10},{"m":"a","d":5,"v":40},{"m":"a","d":6,"v":70},{"m":"a","d":7,"v":85},{"m":"a","d":8,"v":80},
  {"m":"b","d":3,"v":0},{"m":"b","d":4,"v":8},{"m":"b","d":5,"v":35},{"m":"b","d":6,"v":68},{"m":"b","d":7,"v":82},
  {"m":"c","d":3,"v":0},{"m":"c","d":4,"v":5},{"m":"c","d":5,"v":25},{"m":"c","d":6,"v":55},{"m":"c","d":7,"v":68},{"m":"c","d":8,"v":60},
  {"m":"d","d":3,"v":0},{"m":"d","d":4,"v":4},{"m":"d","d":5,"v":20},{"m":"d","d":6,"v":45},{"m":"d","d":7,"v":55},{"m":"d","d":8,"v":45},
  {"m":"e","d":3,"v":0},{"m":"e","d":4,"v":3},{"m":"e","d":5,"v":15},{"m":"e","d":6,"v":35},{"m":"e","d":7,"v":50},{"m":"e","d":8,"v":70},
  {"m":"f","d":4,"v":0},{"m":"f","d":5,"v":3},{"m":"f","d":6,"v":12},{"m":"f","d":7,"v":30},{"m":"f","d":8,"v":50}]
},
"columns": 12,
"spacing": 0,
"bounds": "flush",
"align": "each",
"concat": [
  {"width":82,"height":66,"title":{"text":"Trial 1\u00a0\u00a0\u00a0\u00a0\u00a0\u00a0\u00a0\u00a0\u00a0\u00a0controls (1/6)","fontSize":6},"data":{"name":"t1c"},"mark":{"type":"line","point":true},"encoding":{"x":{"field":"d","type":"quantitative","scale":{"domain":[0,30],"nice":false},"title":"Day Post-Challenge"},"y":{"field":"v","type":"quantitative","scale":{"domain":[0,100]},"title":"% parasitaemia"},"detail":{"field":"m"}}},
  {"width":27,"height":108,"data":{"values":[{}]},"mark":{"type":"point","opacity":0},"encoding":{}},
  {"width":76,"height":66,"title":"Pyy YM MSP4/5 (5/5)","data":{"name":"t1y"},"mark":{"type":"line","point":true},"encoding":{"x":{"field":"d","type":"quantitative","scale":{"domain":[0,30],"nice":false},"title":"Day Post-Challenge"},"y":{"field":"v","type":"quantitative","scale":{"domain":[0,100]},"title":"% parasitaemia"},"detail":{"field":"m"}}},
  {"width":27,"height":1,"data":{"values":[{}]},"mark":{"type":"point","opacity":0},"encoding":{}},
  {"width":95,"height":66,"title":"Pyk 193L MSP4/5 (5/6)","data":{"name":"t1k"},"mark":{"type":"line","point":true},"encoding":{"x":{"field":"d","type":"quantitative","scale":{"domain":[0,30],"nice":false},"title":"Day Post-Challenge"},"y":{"field":"v","type":"quantitative","scale":{"domain":[0,100]},"title":"% parasitaemia"},"detail":{"field":"m"}}},
  {"width":1,"height":1,"data":{"values":[{}]},"mark":{"type":"point","opacity":0},"encoding":{}},
  {"width":1,"height":1,"data":{"values":[{}]},"mark":{"type":"point","opacity":0},"encoding":{}},
  {"width":1,"height":1,"data":{"values":[{}]},"mark":{"type":"point","opacity":0},"encoding":{}},
  {"width":1,"height":1,"data":{"values":[{}]},"mark":{"type":"point","opacity":0},"encoding":{}},
  {"width":1,"height":1,"data":{"values":[{}]},"mark":{"type":"point","opacity":0},"encoding":{}},
  {"width":1,"height":1,"data":{"values":[{}]},"mark":{"type":"point","opacity":0},"encoding":{}},
  {"width":1,"height":1,"data":{"values":[{}]},"mark":{"type":"point","opacity":0},"encoding":{}},

  {"width":79,"height":68,"title":{"text":"Trial 2\u00a0\u00a0\u00a0\u00a0\u00a0\u00a0\u00a0\u00a0\u00a0\u00a0controls (1/6)","fontSize":6},"data":{"name":"t2c"},"mark":{"type":"line","point":true},"encoding":{"x":{"field":"d","type":"quantitative","scale":{"domain":[0,30],"nice":false},"title":"Day Post-Challenge"},"y":{"field":"v","type":"quantitative","scale":{"domain":[0,100]},"title":"% parasitaemia"},"detail":{"field":"m"}}},
  {"width":27,"height":103,"data":{"values":[{}]},"mark":{"type":"point","opacity":0},"encoding":{}},
  {"width":76,"height":68,"title":"Pyy YM MSP4/5\u00a0\u00a0\u00a0(6/6)","data":{"name":"t2y"},"mark":{"type":"line","point":true},"encoding":{"x":{"field":"d","type":"quantitative","scale":{"domain":[0,30],"nice":false},"title":"Day Post-Challenge"},"y":{"field":"v","type":"quantitative","scale":{"domain":[0,100]},"title":"% parasitaemia"},"detail":{"field":"m"}}},
  {"width":27,"height":1,"data":{"values":[{}]},"mark":{"type":"point","opacity":0},"encoding":{}},
  {"width":79,"height":66,"title":"Pyk 193L MSP4/5 (6/6)","data":{"name":"t2k"},"mark":{"type":"line","point":true},"encoding":{"x":{"field":"d","type":"quantitative","scale":{"domain":[0,30],"nice":false},"title":"Day Post-Challenge"},"y":{"field":"v","type":"quantitative","scale":{"domain":[0,100]},"title":"% parasitaemia"},"detail":{"field":"m"}}},
  {"width":1,"height":1,"data":{"values":[{}]},"mark":{"type":"point","opacity":0},"encoding":{}},
  {"width":1,"height":1,"data":{"values":[{}]},"mark":{"type":"point","opacity":0},"encoding":{}},
  {"width":1,"height":1,"data":{"values":[{}]},"mark":{"type":"point","opacity":0},"encoding":{}},
  {"width":1,"height":1,"data":{"values":[{}]},"mark":{"type":"point","opacity":0},"encoding":{}},
  {"width":1,"height":1,"data":{"values":[{}]},"mark":{"type":"point","opacity":0},"encoding":{}},
  {"width":1,"height":1,"data":{"values":[{}]},"mark":{"type":"point","opacity":0},"encoding":{}},
  {"width":1,"height":1,"data":{"values":[{}]},"mark":{"type":"point","opacity":0},"encoding":{}},

  {"width":80,"height":66,"title":{"text":"Trial 3\u00a0\u00a0\u00a0\u00a0\u00a0\u00a0\u00a0\u00a0\u00a0\u00a0controls (0/6)","fontSize":6},"data":{"name":"t3c"},"mark":{"type":"line","point":true},"encoding":{"x":{"field":"d","type":"quantitative","scale":{"domain":[0,30],"nice":false},"title":"Day Post-Challenge"},"y":{"field":"v","type":"quantitative","scale":{"domain":[0,100]},"title":"% parasitaemia"},"detail":{"field":"m"}}},
  {"width":27,"height":121,"data":{"values":[{}]},"mark":{"type":"point","opacity":0},"encoding":{}},
  {"width":76,"height":66,"title":"Pyy YM MSP4/5 (5/6)","data":{"name":"t3y"},"mark":{"type":"line","point":true},"encoding":{"x":{"field":"d","type":"quantitative","scale":{"domain":[0,30],"nice":false},"title":"Day Post-Challenge"},"y":{"field":"v","type":"quantitative","scale":{"domain":[0,100]},"title":"% parasitaemia"},"detail":{"field":"m"}}},
  {"width":27,"height":1,"data":{"values":[{}]},"mark":{"type":"point","opacity":0},"encoding":{}},
  {"width":90,"height":66,"title":"Pyk 193L MSP4/5 (5/5)","data":{"name":"t3k"},"mark":{"type":"line","point":true},"encoding":{"x":{"field":"d","type":"quantitative","scale":{"domain":[0,30],"nice":false},"title":"Day Post-Challenge"},"y":{"field":"v","type":"quantitative","scale":{"domain":[0,100]},"title":"% parasitaemia"},"detail":{"field":"m"}}},
  {"width":1,"height":1,"data":{"values":[{}]},"mark":{"type":"point","opacity":0},"encoding":{}},
  {"width":1,"height":1,"data":{"values":[{}]},"mark":{"type":"point","opacity":0},"encoding":{}},
  {"vconcat": [
   {"width":1,"height":25,"data":{"values":[{}]},"mark":{"type":"point","opacity":0},"encoding":{}},
   {"width":78,"height":60,"title":"Pb ANKA MSP4/5\u00a0\u00a0(4/6)","data":{"name":"t3b"},"mark":{"type":"line","point":true},"encoding":{"x":{"field":"d","type":"quantitative","scale":{"domain":[0,30],"nice":false},"title":"Day Post-Challenge"},"y":{"field":"v","type":"quantitative","scale":{"domain":[0,100]},"title":"% parasitaemia"},"detail":{"field":"m"}}}
  ], "spacing": 0, "bounds": "flush"},
  {"width":1,"height":1,"data":{"values":[{}]},"mark":{"type":"point","opacity":0},"encoding":{}},
  {"width":1,"height":1,"data":{"values":[{}]},"mark":{"type":"point","opacity":0},"encoding":{}},
  {"width":1,"height":1,"data":{"values":[{}]},"mark":{"type":"point","opacity":0},"encoding":{}},
  {"width":1,"height":1,"data":{"values":[{}]},"mark":{"type":"point","opacity":0},"encoding":{}},

  {"width":80,"height":66,"title":{"text":"Trial 4\u00a0\u00a0\u00a0\u00a0\u00a0\u00a0\u00a0\u00a0\u00a0\u00a0controls (2/6)","fontSize":6},"data":{"name":"t4c"},"mark":{"type":"line","point":true},"encoding":{"x":{"field":"d","type":"quantitative","scale":{"domain":[0,30],"nice":false},"title":"Day Post-Challenge"},"y":{"field":"v","type":"quantitative","scale":{"domain":[0,100]},"title":"% parasitaemia"},"detail":{"field":"m"}}},
  {"width":27,"height":116,"data":{"values":[{}]},"mark":{"type":"point","opacity":0},"encoding":{}},
  {"width":75,"height":66,"title":"Pyy YM MSP4/5\u00a0\u00a0(6/6)","data":{"name":"t4y"},"mark":{"type":"line","point":true},"encoding":{"x":{"field":"d","type":"quantitative","scale":{"domain":[0,30],"nice":false},"title":"Day Post-Challenge"},"y":{"field":"v","type":"quantitative","scale":{"domain":[0,100]},"title":"% parasitaemia"},"detail":{"field":"m"}}},
  {"width":27,"height":1,"data":{"values":[{}]},"mark":{"type":"point","opacity":0},"encoding":{}},
  {"width":1,"height":1,"data":{"values":[{}]},"mark":{"type":"point","opacity":0},"encoding":{}},
  {"width":77,"height":66,"title":"Pyn N67 MSP4/5 (10/10)","data":{"name":"t4n"},"mark":{"type":"line","point":true},"encoding":{"x":{"field":"d","type":"quantitative","scale":{"domain":[0,30],"nice":false},"title":"Day Post-Challenge"},"y":{"field":"v","type":"quantitative","scale":{"domain":[0,100]},"title":"% parasitaemia"},"detail":{"field":"m"}}},
  {"width":35,"height":1,"data":{"values":[{}]},"mark":{"type":"point","opacity":0},"encoding":{}},
  {"width":76,"height":66,"title":"Pb ANKA MSP4/5\u00a0\u00a0(4/6)","data":{"name":"t4b"},"mark":{"type":"line","point":true},"encoding":{"x":{"field":"d","type":"quantitative","scale":{"domain":[0,30],"nice":false},"title":"Day Post-Challenge"},"y":{"field":"v","type":"quantitative","scale":{"domain":[0,100]},"title":"% parasitaemia"},"detail":{"field":"m"}}},
  {"width":1,"height":1,"data":{"values":[{}]},"mark":{"type":"point","opacity":0},"encoding":{}},
  {"width":1,"height":1,"data":{"values":[{}]},"mark":{"type":"point","opacity":0},"encoding":{}},
  {"width":1,"height":1,"data":{"values":[{}]},"mark":{"type":"point","opacity":0},"encoding":{}},
  {"width":76,"height":66,"title":"Pca MSP4/5\u00a0\u00a0\u00a0(0/6)","data":{"name":"t4p"},"mark":{"type":"line","point":true},"encoding":{"x":{"field":"d","type":"quantitative","scale":{"domain":[0,30],"nice":false},"title":"Day Post-Challenge"},"y":{"field":"v","type":"quantitative","scale":{"domain":[0,100]},"title":"% parasitaemia"},"detail":{"field":"m"}}},

  {"width":75,"height":65,"title":{"text":"Trial 5\u00a0\u00a0\u00a0\u00a0\u00a0\u00a0\u00a0\u00a0\u00a0\u00a0controls (0/6)","fontSize":6},"data":{"name":"t5c"},"mark":{"type":"line","point":true},"encoding":{"x":{"field":"d","type":"quantitative","scale":{"domain":[0,30],"nice":false},"title":"Day Post-Challenge"},"y":{"field":"v","type":"quantitative","scale":{"domain":[0,100]},"title":"% parasitaemia"},"detail":{"field":"m"}}},
  {"width":27,"height":114,"data":{"values":[{}]},"mark":{"type":"point","opacity":0},"encoding":{}},
  {"width":75,"height":65,"title":"Pyy YM MSP4/5\u00a0\u00a0\u00a0(6/6)","data":{"name":"t5y"},"mark":{"type":"line","point":true},"encoding":{"x":{"field":"d","type":"quantitative","scale":{"domain":[0,30],"nice":false},"title":"Day Post-Challenge"},"y":{"field":"v","type":"quantitative","scale":{"domain":[0,100]},"title":"% parasitaemia"},"detail":{"field":"m"}}},
  {"width":27,"height":1,"data":{"values":[{}]},"mark":{"type":"point","opacity":0},"encoding":{}},
  {"width":1,"height":1,"data":{"values":[{}]},"mark":{"type":"point","opacity":0},"encoding":{}},
  {"width":77,"height":65,"title":"Pyn N67 MSP4/5\u00a0\u00a0\u00a0(6/6)","data":{"name":"t5n"},"mark":{"type":"line","point":true},"encoding":{"x":{"field":"d","type":"quantitative","scale":{"domain":[0,30],"nice":false},"title":"Day Post-Challenge"},"y":{"field":"v","type":"quantitative","scale":{"domain":[0,100]},"title":"% parasitaemia"},"detail":{"field":"m"}}},
  {"width":35,"height":1,"data":{"values":[{}]},"mark":{"type":"point","opacity":0},"encoding":{}},
  {"width":77,"height":65,"title":"Pb ANKA MSP4/5 (4/6)","data":{"name":"t5b"},"mark":{"type":"line","point":true},"encoding":{"x":{"field":"d","type":"quantitative","scale":{"domain":[0,30],"nice":false},"title":"Day Post-Challenge"},"y":{"field":"v","type":"quantitative","scale":{"domain":[0,100]},"title":"% parasitaemia"},"detail":{"field":"m"}}},
  {"width":1,"height":1,"data":{"values":[{}]},"mark":{"type":"point","opacity":0},"encoding":{}},
  {"width":1,"height":1,"data":{"values":[{}]},"mark":{"type":"point","opacity":0},"encoding":{}},
  {"width":1,"height":1,"data":{"values":[{}]},"mark":{"type":"point","opacity":0},"encoding":{}},
  {"width":76,"height":65,"title":"Pca MSP4/5\u00a0\u00a0\u00a0\u00a0(4/6)","data":{"name":"t5p"},"mark":{"type":"line","point":true},"encoding":{"x":{"field":"d","type":"quantitative","scale":{"domain":[0,30],"nice":false},"title":"Day Post-Challenge"},"y":{"field":"v","type":"quantitative","scale":{"domain":[0,100]},"title":"% parasitaemia"},"detail":{"field":"m"}}},

  {"width":82,"height":67,"title":{"text":"Trial 6\u00a0\u00a0\u00a0\u00a0\u00a0\u00a0\u00a0\u00a0\u00a0\u00a0controls (0/6)","fontSize":6},"data":{"name":"t6c"},"mark":{"type":"line","point":true},"encoding":{"x":{"field":"d","type":"quantitative","scale":{"domain":[0,30],"nice":false},"title":"Day Post-Challenge"},"y":{"field":"v","type":"quantitative","scale":{"domain":[0,100]},"title":"% parasitaemia"},"detail":{"field":"m"}}},
  {"width":27,"height":1,"data":{"values":[{}]},"mark":{"type":"point","opacity":0},"encoding":{}},
  {"width":82,"height":67,"title":"Pyy YM MSP4/5\u00a0\u00a0\u00a0(6/6)","data":{"name":"t6y"},"mark":{"type":"line","point":true},"encoding":{"x":{"field":"d","type":"quantitative","scale":{"domain":[0,30],"nice":false},"title":"Day Post-Challenge"},"y":{"field":"v","type":"quantitative","scale":{"domain":[0,100]},"title":"% parasitaemia"},"detail":{"field":"m"}}},
  {"width":27,"height":1,"data":{"values":[{}]},"mark":{"type":"point","opacity":0},"encoding":{}},
  {"width":1,"height":1,"data":{"values":[{}]},"mark":{"type":"point","opacity":0},"encoding":{}},
  {"width":1,"height":1,"data":{"values":[{}]},"mark":{"type":"point","opacity":0},"encoding":{}},
  {"width":1,"height":1,"data":{"values":[{}]},"mark":{"type":"point","opacity":0},"encoding":{}},
  {"width":78,"height":67,"title":"Pb ANKA MSP4/5 (5/6)","data":{"name":"t6b"},"mark":{"type":"line","point":true},"encoding":{"x":{"field":"d","type":"quantitative","scale":{"domain":[0,30],"nice":false},"title":"Day Post-Challenge"},"y":{"field":"v","type":"quantitative","scale":{"domain":[0,100]},"title":"% parasitaemia"},"detail":{"field":"m"}}},
  {"width":32,"height":1,"data":{"values":[{}]},"mark":{"type":"point","opacity":0},"encoding":{}},
  {"width":88,"height":67,"title":{"text":["Reduced and Alkylated","Pb ANKA MSP4/5\u00a0\u00a0\u00a0\u00a0(0/6)"]},"data":{"name":"t6r"},"mark":{"type":"line","point":true},"encoding":{"x":{"field":"d","type":"quantitative","scale":{"domain":[0,30],"nice":false},"title":"Day Post-Challenge"},"y":{"field":"v","type":"quantitative","scale":{"domain":[0,100]},"title":"% parasitaemia"},"detail":{"field":"m"}}},
  {"width":34,"height":1,"data":{"values":[{}]},"mark":{"type":"point","opacity":0},"encoding":{}},
  {"width":76,"height":67,"title":"Pca MSP4/5\u00a0\u00a0\u00a0\u00a0(0/6)","data":{"name":"t6p"},"mark":{"type":"line","point":true},"encoding":{"x":{"field":"d","type":"quantitative","scale":{"domain":[0,30],"nice":false},"title":"Day Post-Challenge"},"y":{"field":"v","type":"quantitative","scale":{"domain":[0,100]},"title":"% parasitaemia"},"detail":{"field":"m"}}}
]
}
